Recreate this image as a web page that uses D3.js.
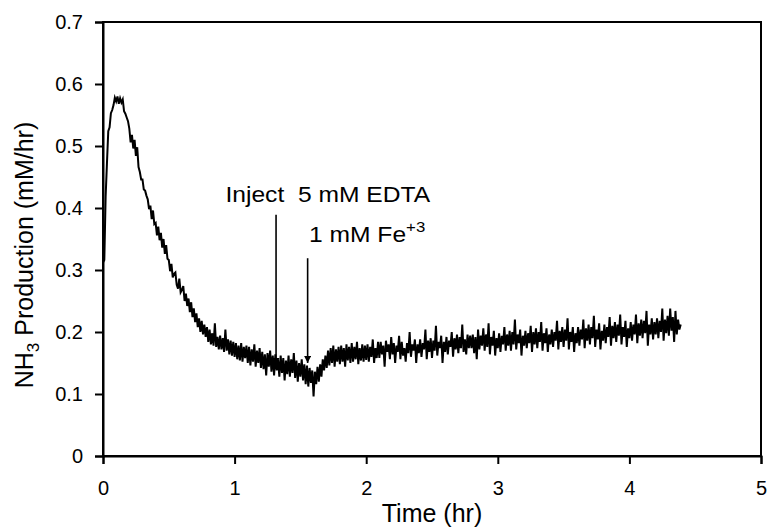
<!DOCTYPE html>
<html>
<head>
<meta charset="utf-8">
<script src="https://cdn.jsdelivr.net/npm/d3@7/dist/d3.min.js"></script>
<style>
  html, body { margin: 0; padding: 0; background: #fff; }
  svg { display: block; }
  text { font-family: "Liberation Sans", Arial, Helvetica, sans-serif; fill: #000; }
</style>
</head>
<body>
<svg id="chart" width="767" height="529"></svg>
<script>
// ---- Data ----
const xTicks = [0, 1, 2, 3, 4, 5];
const yTicks = [0, 0.1, 0.2, 0.3, 0.4, 0.5, 0.6, 0.7];
const xTickLabels = ["0", "1", "2", "3", "4", "5"];
const yTickLabels = ["0", "0.1", "0.2", "0.3", "0.4", "0.5", "0.6", "0.7"];
const timeStart = 0;      // hr
const timeStep = 0.01;    // hr between readings
// NH3 production (mM/hr), one reading every 0.01 hr from t = 0 to 4.39 hr
const nh3 = [
  0.312, 0.316, 0.418, 0.472, 0.524, 0.530, 0.553, 0.558, 0.566, 0.578,
  0.572, 0.580, 0.568, 0.577, 0.570, 0.575, 0.556, 0.552, 0.546, 0.540,
  0.528, 0.506, 0.518, 0.496, 0.510, 0.484, 0.498, 0.466, 0.458, 0.446,
  0.446, 0.430, 0.428, 0.420, 0.414, 0.398, 0.404, 0.382, 0.396, 0.374,
  0.376, 0.356, 0.370, 0.348, 0.360, 0.336, 0.350, 0.326, 0.340, 0.318,
  0.316, 0.298, 0.310, 0.288, 0.294, 0.296, 0.276, 0.270, 0.286, 0.264,
  0.268, 0.274, 0.250, 0.262, 0.242, 0.254, 0.232, 0.248, 0.224, 0.238,
  0.216, 0.230, 0.208, 0.222, 0.200, 0.218, 0.196, 0.212, 0.192, 0.208,
  0.184, 0.204, 0.180, 0.198, 0.178, 0.214, 0.176, 0.192, 0.172, 0.194,
  0.172, 0.190, 0.168, 0.204, 0.170, 0.188, 0.164, 0.186, 0.162, 0.184,
  0.160, 0.182, 0.156, 0.178, 0.154, 0.182, 0.152, 0.176, 0.158, 0.178,
  0.150, 0.176, 0.146, 0.172, 0.152, 0.180, 0.144, 0.170, 0.150, 0.174,
  0.142, 0.168, 0.140, 0.164, 0.130, 0.166, 0.144, 0.170, 0.136, 0.162,
  0.130, 0.164, 0.138, 0.156, 0.128, 0.162, 0.134, 0.158, 0.122, 0.154,
  0.132, 0.162, 0.128, 0.156, 0.134, 0.166, 0.126, 0.154, 0.120, 0.150,
  0.128, 0.156, 0.122, 0.148, 0.116, 0.146, 0.112, 0.142, 0.118, 0.138,
  0.096, 0.136, 0.116, 0.144, 0.120, 0.148, 0.128, 0.156, 0.138, 0.162,
  0.142, 0.170, 0.146, 0.174, 0.150, 0.178, 0.144, 0.172, 0.152, 0.176,
  0.148, 0.178, 0.152, 0.174, 0.144, 0.180, 0.154, 0.176, 0.150, 0.182,
  0.152, 0.176, 0.156, 0.184, 0.148, 0.174, 0.154, 0.180, 0.152, 0.178,
  0.155, 0.180, 0.152, 0.176, 0.160, 0.188, 0.150, 0.174, 0.158, 0.184,
  0.158, 0.184, 0.164, 0.178, 0.144, 0.186, 0.168, 0.180, 0.156, 0.192,
  0.164, 0.182, 0.150, 0.178, 0.168, 0.194, 0.156, 0.184, 0.162, 0.174,
  0.152, 0.182, 0.166, 0.200, 0.160, 0.180, 0.170, 0.188, 0.150, 0.180,
  0.166, 0.188, 0.160, 0.182, 0.172, 0.204, 0.156, 0.186, 0.168, 0.190,
  0.158, 0.186, 0.170, 0.210, 0.162, 0.184, 0.174, 0.194, 0.150, 0.184,
  0.168, 0.192, 0.164, 0.186, 0.176, 0.200, 0.160, 0.190, 0.172, 0.196,
  0.166, 0.192, 0.174, 0.212, 0.168, 0.188, 0.164, 0.196, 0.174, 0.194,
  0.174, 0.196, 0.166, 0.192, 0.156, 0.204, 0.172, 0.194, 0.178, 0.206,
  0.170, 0.196, 0.176, 0.214, 0.164, 0.192, 0.178, 0.202, 0.162, 0.190,
  0.174, 0.198, 0.168, 0.194, 0.180, 0.208, 0.170, 0.196, 0.178, 0.202,
  0.170, 0.200, 0.180, 0.220, 0.172, 0.196, 0.182, 0.204, 0.162, 0.194,
  0.178, 0.202, 0.174, 0.198, 0.182, 0.210, 0.168, 0.200, 0.180, 0.206,
  0.174, 0.200, 0.184, 0.216, 0.170, 0.198, 0.182, 0.206, 0.168, 0.196,
  0.180, 0.204, 0.176, 0.200, 0.186, 0.218, 0.172, 0.202, 0.184, 0.208,
  0.176, 0.204, 0.186, 0.222, 0.172, 0.200, 0.184, 0.208, 0.168, 0.198,
  0.182, 0.208, 0.178, 0.204, 0.188, 0.220, 0.174, 0.206, 0.186, 0.212,
  0.180, 0.208, 0.190, 0.226, 0.176, 0.204, 0.188, 0.214, 0.172, 0.202,
  0.186, 0.212, 0.182, 0.208, 0.192, 0.224, 0.178, 0.210, 0.190, 0.216,
  0.184, 0.212, 0.194, 0.228, 0.180, 0.208, 0.192, 0.218, 0.176, 0.206,
  0.190, 0.216, 0.186, 0.212, 0.196, 0.228, 0.182, 0.214, 0.194, 0.220,
  0.190, 0.218, 0.198, 0.234, 0.178, 0.212, 0.196, 0.222, 0.188, 0.216,
  0.196, 0.222, 0.190, 0.218, 0.200, 0.238, 0.186, 0.220, 0.198, 0.226,
  0.194, 0.238, 0.202, 0.224, 0.184, 0.234, 0.196, 0.220, 0.204, 0.212
];
// Annotation arrows: time of injection, arrow top value, arrow tip value
const arrowTimes = [1.315, 1.555];
const arrowTops = [0.389, 0.319];
const arrowTips = [0.147, 0.150];
// Annotation labels: position in data units (hr, mM/hr)
const labelEDTA = { text: "Inject  5 mM EDTA", t: 0.93, v: 0.410 };
const labelFe = { text: "1 mM Fe", sup: "+3", t: 1.565, v: 0.345 };

// ---- Layout ----
const W = 767, H = 529;
const m = { left: 103, right: 6, top: 22, bottom: 73 };
const svg = d3.select("#chart");

const x = d3.scaleLinear().domain([0, 5]).range([m.left, W - m.right]);
const y = d3.scaleLinear().domain([0, 0.7]).range([H - m.bottom, m.top]);

const series = nh3.map((v, i) => ({ t: timeStart + i * timeStep, v }));

// frame (top and right)
svg.append("rect")
  .attr("x", x(0)).attr("y", y(0.7))
  .attr("width", x(5) - x(0)).attr("height", y(0) - y(0.7))
  .attr("fill", "none").attr("stroke", "#000").attr("stroke-width", 2);

// line
svg.append("path")
  .datum(series)
  .attr("fill", "none")
  .attr("stroke", "#000")
  .attr("stroke-width", 2)
  .attr("stroke-linejoin", "miter")
  .attr("d", d3.line().x(d => x(d.t)).y(d => y(d.v)));

// axes
const xAxis = d3.axisBottom(x).tickValues(xTicks)
  .tickFormat((d, i) => xTickLabels[i]).tickSize(8).tickPadding(17);
const yAxis = d3.axisLeft(y).tickValues(yTicks)
  .tickFormat((d, i) => yTickLabels[i]).tickSize(8).tickPadding(12);

const gx = svg.append("g").attr("transform", `translate(0,${y(0)})`).call(xAxis);
const gy = svg.append("g").attr("transform", `translate(${x(0)},0)`).call(yAxis);
[gx, gy].forEach(g => {
  g.select(".domain").attr("stroke", "#000").attr("stroke-width", 2);
  g.selectAll(".tick line").attr("stroke", "#000").attr("stroke-width", 2);
  g.selectAll(".tick text").attr("fill", "#000")
    .style("font-size", "20px")
    .style("font-family", '"Liberation Sans", Arial, sans-serif');
});

// axis titles
svg.append("text")
  .attr("x", (x(0) + x(5)) / 2).attr("y", 522)
  .attr("text-anchor", "middle")
  .style("font-size", "25px")
  .text("Time (hr)");

const yt = svg.append("text")
  .attr("transform", `translate(33,255) rotate(-90)`)
  .attr("text-anchor", "middle")
  .style("font-size", "25px");
yt.append("tspan").text("NH");
yt.append("tspan").attr("dy", 6).style("font-size", "17px").text("3");
yt.append("tspan").attr("dy", -6).text(" Production (mM/hr)");

// arrows
svg.append("defs").append("marker")
  .attr("id", "ah").attr("viewBox", "0 0 10 10")
  .attr("refX", 10).attr("refY", 5)
  .attr("markerWidth", 7).attr("markerHeight", 7)
  .attr("markerUnits", "userSpaceOnUse")
  .attr("orient", "auto")
  .append("path").attr("d", "M0,0 L10,5 L0,10 Z").attr("fill", "#000");

arrowTimes.forEach((t, i) => {
  svg.append("line")
    .attr("x1", x(t)).attr("x2", x(t))
    .attr("y1", y(arrowTops[i])).attr("y2", y(arrowTips[i]))
    .attr("stroke", "#000").attr("stroke-width", 1.6)
    .attr("marker-end", "url(#ah)");
});

// labels (slightly widened glyphs as in the reference)
const g1 = svg.append("g")
  .attr("transform", `translate(${x(labelEDTA.t)},${y(labelEDTA.v)}) scale(1.12,1)`);
g1.append("text").attr("x", 0).attr("y", 0)
  .style("font-size", "22px").style("white-space", "pre")
  .text(labelEDTA.text);

const g2 = svg.append("g")
  .attr("transform", `translate(${x(labelFe.t)},${y(labelFe.v)}) scale(1.12,1)`);
const fe = g2.append("text").attr("x", 0).attr("y", 0).style("font-size", "22px");
fe.append("tspan").text(labelFe.text);
fe.append("tspan").attr("dy", -10).style("font-size", "15px").text(labelFe.sup);
</script>
</body>
</html>
